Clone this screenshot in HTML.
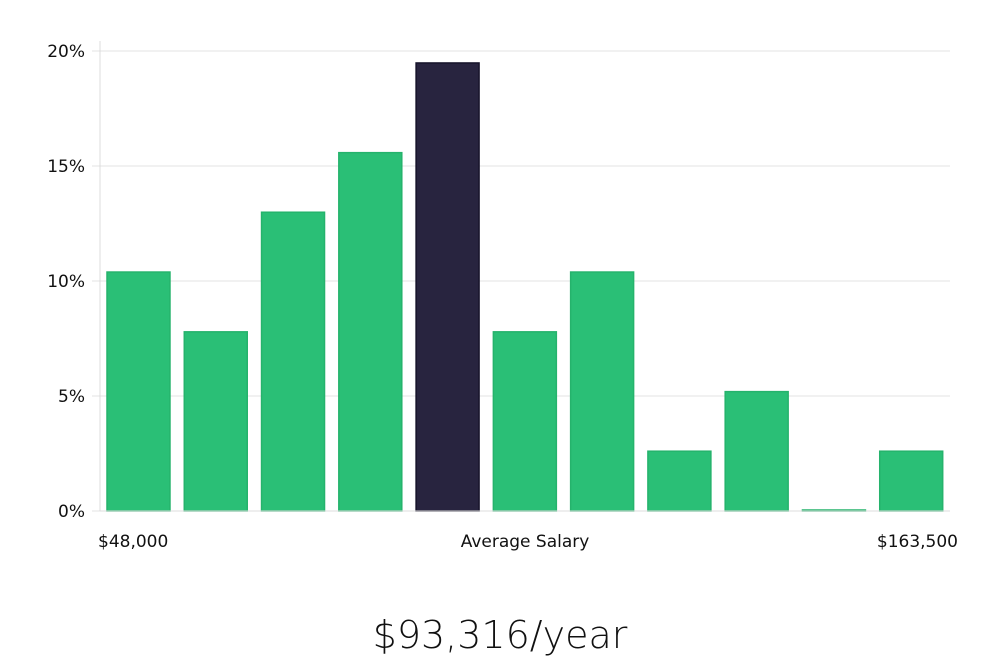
<!DOCTYPE html>
<html><head><meta charset="utf-8"><style>
body{margin:0;background:#fff;font-family:"DejaVu Sans","Liberation Sans",sans-serif;}
svg{display:block}
</style></head><body>
<svg id="chart" width="1000" height="660" viewBox="0 0 1000 660" xmlns="http://www.w3.org/2000/svg"></svg>
<script>
const categories=["b1","b2","b3","b4","b5","b6","b7","b8","b9","b10","b11"];
const values=[10.39,7.79,12.99,15.58,19.48,7.79,10.39,2.6,5.19,0,2.6];
const highlightIndex=4;
const yTicks=[0,5,10,15,20];
const yTickLabels=["0%","5%","10%","15%","20%"];
const xLabels=["$48,000","Average Salary","$163,500"];
const salaryText="$93,316/year";

const NS="http://www.w3.org/2000/svg";
const svg=document.getElementById('chart');
const L=100,R=950,T=51,B=511,yMax=20;
const y=v=>B-(v/yMax)*(B-T);
const band=(R-L)/categories.length;
const x=i=>L+i*band+7;
const bw=band-14.3;
function mk(tag,attrs,text){const e=document.createElementNS(NS,tag);for(const k in attrs)e.setAttribute(k,attrs[k]);if(text!==undefined)e.textContent=text;svg.appendChild(e);return e;}

yTicks.forEach((t,i)=>{
  const g=mk('line',{x1:L-8,x2:R,y1:y(t),y2:y(t),stroke:'#e3e3e3','stroke-width':1});
  
  
  const lb=mk('text',{x:85,y:y(t)+6,'text-anchor':'end','font-size':17,fill:'#111'},yTickLabels[i]);
  
  
});
const ax=mk('line',{x1:L,x2:L,y1:41,y2:B,stroke:'#dcdcdc','stroke-width':1});



values.forEach((v,i)=>{
  const hi=i===highlightIndex;
  const h=Math.max(B-y(v),1);
  const r=mk('rect',{x:x(i),y:B-h,width:bw,height:h,fill:hi?'#28243f':'#2abf76',stroke:hi?'#16132a':'#25b36c','stroke-width':1.5});
  
  
});
const bl=mk('line',{x1:L,x2:R,y1:B,y2:B,stroke:'#dcdcdc','stroke-width':1});



const xl=[[98,'start'],[525,'middle'],[958,'end']];
xLabels.forEach((s,i)=>{
  const t=mk('text',{x:xl[i][0],y:547,'text-anchor':xl[i][1],'font-size':17,fill:'#111'},s);
  
  
});
const st=mk('text',{x:500,y:648,'text-anchor':'middle','font-size':38,fill:'#111','font-weight':'300'},salaryText);


</script>
</body></html>
